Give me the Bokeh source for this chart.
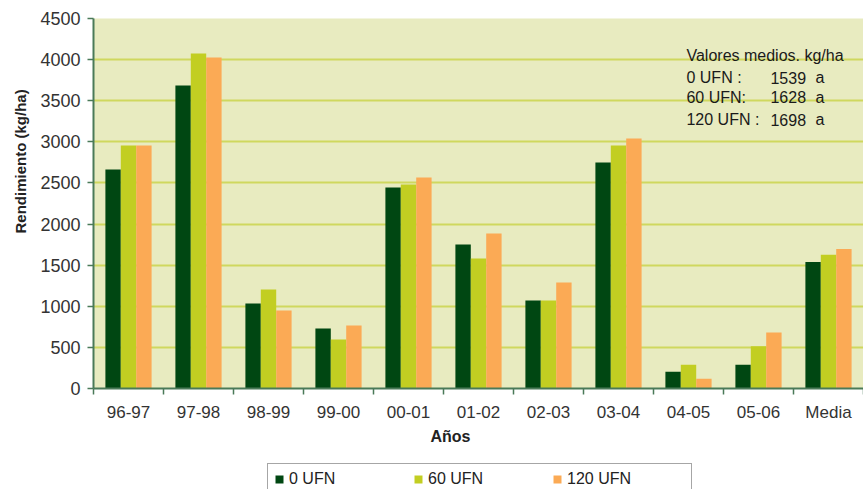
from bokeh.plotting import figure
from bokeh.layouts import column
from bokeh.models import Range1d, FixedTicker, Label, Legend, LegendItem, ColumnDataSource, Title
from bokeh.transform import dodge
from bokeh.embed import file_html
from bokeh.resources import INLINE

categories = ["96-97", "97-98", "98-99", "99-00", "00-01", "01-02", "02-03",
              "03-04", "04-05", "05-06", "Media"]
ufn0 = [2665, 3685, 1035, 730, 2445, 1750, 1070, 2750, 205, 290, 1539]
ufn60 = [2955, 4075, 1205, 595, 2480, 1580, 1070, 2955, 290, 515, 1628]
ufn120 = [2955, 4025, 950, 765, 2565, 1885, 1290, 3040, 120, 680, 1698]
series_names = ["0 UFN", "60 UFN", "120 UFN"]
y_ticks = [0, 500, 1000, 1500, 2000, 2500, 3000, 3500, 4000, 4500]

mean_title = "Valores medios. kg/ha"
mean_labels = ["0 UFN :", "60 UFN:", "120 UFN :"]
mean_values = [1539, 1628, 1698]
mean_letters = ["a", "a", "a"]

colors = ["#004712", "#C2CE22", "#FBAA55"]
FONT = "Liberation Sans"

n = len(categories)
centers = [i + 0.5 for i in range(n)]
src = ColumnDataSource(dict(x=centers, u0=ufn0, u60=ufn60, u120=ufn120))
series_cols = ["u0", "u60", "u120"]

p = figure(width=863, height=448, output_backend="svg", toolbar_location=None,
           x_range=Range1d(0, n), y_range=Range1d(0, 4500),
           min_border_left=93, min_border_right=0, min_border_top=18,
           min_border_bottom=60)
p.background_fill_color = "#E8EBC0"
p.border_fill_color = "white"
p.outline_line_color = None

bw = 0.22
for k, (colname, col) in enumerate(zip(series_cols, colors)):
    p.vbar(x=dodge("x", (k - 1) * bw, range=p.x_range), top=colname, width=bw,
           source=src, fill_color=col, line_color=None)

p.xgrid.grid_line_color = None
p.ygrid.grid_line_color = "#CFD85E"
p.ygrid.grid_line_width = 2
p.ygrid.ticker = FixedTicker(ticks=y_ticks)

axis_col = "#4A7A58"
xa = p.xaxis[0]
xa.ticker = FixedTicker(ticks=centers, minor_ticks=list(range(n + 1)))
xa.major_label_overrides = {c: lab for c, lab in zip(centers, categories)}
xa.major_tick_line_color = None
xa.major_tick_out = 0
xa.major_tick_in = 0
xa.minor_tick_line_color = axis_col
xa.minor_tick_out = 6
xa.minor_tick_in = 0
xa.minor_tick_line_width = 1.5
xa.axis_line_color = axis_col
xa.axis_line_width = 2
xa.major_label_text_font = FONT
xa.major_label_text_font_size = "17px"
xa.major_label_text_color = "#333333"
xa.major_label_standoff = 8

ya = p.yaxis[0]
ya.ticker = FixedTicker(ticks=y_ticks)
ya.major_tick_line_color = axis_col
ya.major_tick_out = 6
ya.major_tick_in = 0
ya.major_tick_line_width = 1.5
ya.minor_tick_line_color = None
ya.axis_line_color = axis_col
ya.axis_line_width = 2
ya.major_label_text_font = FONT
ya.major_label_text_font_size = "18px"
ya.major_label_text_color = "#333333"
ya.major_label_standoff = 7

t_left = Title(text="Rendimiento (kg/ha)", align="left", offset=155,
               text_font=FONT, text_font_size="15px", text_font_style="bold",
               text_color="#222222")
t_below = Title(text="Años", align="left", offset=337,
                text_font=FONT, text_font_size="16px", text_font_style="bold",
                text_color="#222222")
for t, s in ((t_left, 17), (t_below, 3)):
    try:
        t.standoff = s
    except AttributeError:
        pass
p.add_layout(t_left, "left")
p.add_layout(t_below, "below")

ann_kw = dict(text_font=FONT, text_font_size="16px", text_color="#1a1a1a",
              text_baseline="alphabetic")
p.add_layout(Label(x=8.471, y=4050, text=mean_title, **ann_kw))
ann_y = [3779, 3543, 3268]
for lab, val, let, yy in zip(mean_labels, mean_values, mean_letters, ann_y):
    p.add_layout(Label(x=8.471, y=yy, text=lab, **ann_kw))
    p.add_layout(Label(x=9.671, y=yy, text=str(val), **ann_kw))
    p.add_layout(Label(x=10.314, y=yy, text=let, **ann_kw))

# legend strip below the chart (its bars lie outside its visible x range)
p2 = figure(width=863, height=41, output_backend="svg", toolbar_location=None,
            x_axis_type=None, y_axis_type=None,
            x_range=Range1d(-100, -99), y_range=Range1d(0, 1),
            min_border_left=0, min_border_right=0, min_border_top=0,
            min_border_bottom=0)
p2.outline_line_color = None
p2.xgrid.grid_line_color = None
p2.ygrid.grid_line_color = None
p2.background_fill_color = "white"
items = []
for name, colname, col in zip(series_names, series_cols, colors):
    r = p2.vbar(x="x", top=colname, width=bw, source=src, fill_color=col, line_color=None)
    items.append(LegendItem(label=name, renderers=[r]))

legend = Legend(items=items, orientation="horizontal", location=(174, -6))
legend.glyph_width = 10
legend.glyph_height = 10
legend.label_standoff = 5
legend.label_width = 118
legend.label_height = 10
legend.spacing = 6
legend.padding = 6
legend.margin = 0
legend.label_text_font = FONT
legend.label_text_font_size = "16px"
legend.label_text_color = "#222222"
legend.border_line_color = "#4d4d4d"
legend.border_line_width = 1
legend.background_fill_color = "white"
legend.background_fill_alpha = 1
p2.add_layout(legend, "center")

open("out.html", "w").write(file_html(column(p, p2, spacing=0), INLINE))
